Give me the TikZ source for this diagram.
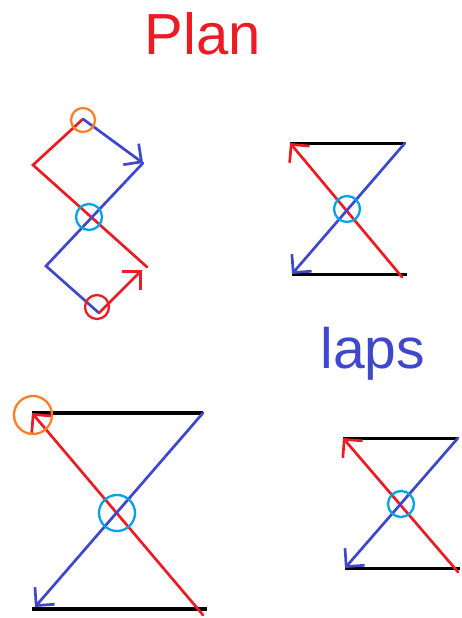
\documentclass[tikz,border=0pt]{standalone}
\usepackage{fontspec}
\setmainfont{Liberation Sans}
\usetikzlibrary{arrows.meta}
\definecolor{pred}{HTML}{ED1C24}
\definecolor{pblue}{HTML}{3F48CC}
\definecolor{porange}{HTML}{FF7F27}
\definecolor{pcyan}{HTML}{00A2E8}

\begin{document}
\begin{tikzpicture}[x=1pt, y=-1pt,
    redline/.style={draw=pred, line width=2.7pt, line cap=round},
    blueline/.style={draw=pblue, line width=2.7pt, line cap=round},
    bar/.style={draw=black, line width=3pt},
    barb/.style={-{Straight Barb[length=13pt, width=26pt, line width=2.7pt]}},
    ring/.style={circle, draw=#1, line width=2.3pt, inner sep=0pt}]
    \useasboundingbox (0,0) rectangle (462,618);

    % titles
    \node[anchor=base west, text=pred, font=\fontsize{58}{58}\selectfont] (plan) at (141,55) {Plan};
    \node[anchor=base west, text=pblue, font=\fontsize{57}{57}\selectfont] (laps) at (317,368) {laps};

    % plan, zig-zag
    \coordinate (pTop) at (83,119);
    \coordinate (pLeft) at (33,165);
    \coordinate (pRight) at (143,163);
    \coordinate (pRedEnd) at (147,267);
    \coordinate (pBlueLeft) at (46,266);
    \coordinate (pBot) at (99,313);
    \coordinate (pRedTip) at (142,270);
    \draw[redline] (pTop) -- (pLeft) -- (pRedEnd);
    \draw[blueline, barb] (pTop) -- (pRight);
    \draw[blueline] (pRight) -- (pBlueLeft) -- (pBot);
    \draw[redline, barb] (pBot) -- (pRedTip);
    \node[ring=porange, minimum size=24pt] (pStart) at (83,120) {};
    \node[ring=pcyan, minimum size=26pt] (pCross) at (89,217) {};
    \node[ring=pred, minimum size=24pt] (pEnd) at (97,307) {};

    % lap, top right
    \coordinate (aTL) at (290,143);
    \coordinate (aTR) at (405,143);
    \coordinate (aBL) at (292,274);
    \coordinate (aBR) at (407,274);
    \draw[bar] (aTL) -- (aTR);
    \draw[bar] (aBL) -- (aBR);
    \draw[redline, barb] (402,277) -- (aTL);
    \draw[blueline, barb] (aTR) -- (aBL);
    \node[ring=pcyan, minimum size=26pt] (aCross) at (347,209) {};

    % lap, bottom left
    \coordinate (bTL) at (32,413);
    \coordinate (bTR) at (203,413);
    \coordinate (bBL) at (32,609);
    \coordinate (bBR) at (207,609);
    \draw[bar, line width=3.5pt] (bTL) -- (bTR);
    \draw[bar, line width=3.5pt] (bBL) -- (bBR);
    \draw[redline, barb] (203,615) -- (bTL);
    \draw[blueline, barb] (bTR) -- (35,607);
    \node[ring=pcyan, minimum size=36pt] (bCross) at (117,513) {};
    \node[ring=porange, minimum size=38pt] (bStart) at (33,415) {};

    % lap, bottom right
    \coordinate (cTL) at (343,438);
    \coordinate (cTR) at (458,438);
    \coordinate (cBL) at (345,568);
    \coordinate (cBR) at (460,568);
    \draw[bar] (cTL) -- (cTR);
    \draw[bar] (cBL) -- (cBR);
    \draw[redline, barb] (458,572) -- (cTL);
    \draw[blueline, barb] (cTR) -- (cBL);
    \node[ring=pcyan, minimum size=26pt] (cCross) at (401,504) {};
\end{tikzpicture}
\end{document}
